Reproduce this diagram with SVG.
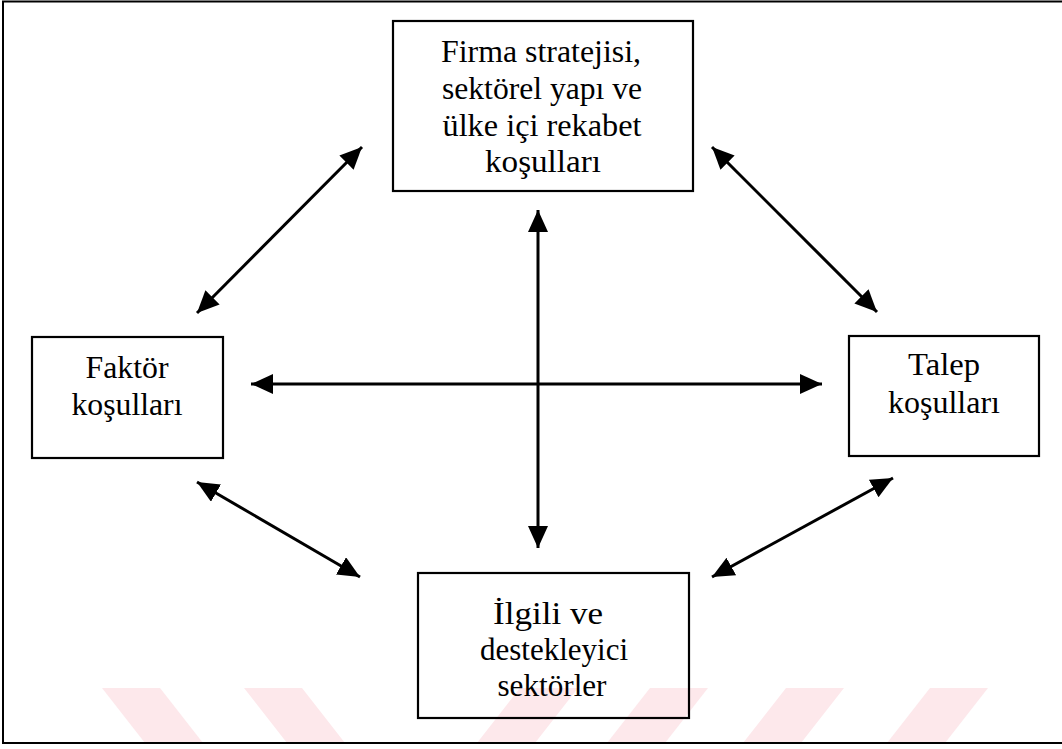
<svg xmlns="http://www.w3.org/2000/svg" width="1062" height="749" viewBox="0 0 1062 749">
  <style>
    .box { fill: none; stroke: #000; stroke-width: 2.2; }
    .lbl { font-family: "Liberation Serif", "Times New Roman", serif; font-size: 32px; fill: #000; text-anchor: middle; }
    .conn { stroke: #000; stroke-width: 3; fill: none; marker-start: url(#ah); marker-end: url(#ah); }
    .wm { fill: #fde8eb; }
  </style>
  <defs>
    <marker id="ah" markerUnits="userSpaceOnUse" markerWidth="24" markerHeight="22" refX="22" refY="10" orient="auto-start-reverse" viewBox="0 0 24 22">
      <path d="M0,0 L22,10 L0,20 Z" fill="#000"/>
    </marker>
  </defs>
  <rect width="1062" height="749" fill="#fff"/>
  <g id="watermark">
    <polygon class="wm" points="102,688 160,688 203,743 145,743"/>
    <polygon class="wm" points="244,688 302,688 345,743 287,743"/>
    <polygon class="wm" points="520,688 578,688 535,743 477,743"/>
    <polygon class="wm" points="650,688 708,688 665,743 607,743"/>
    <polygon class="wm" points="786,688 844,688 801,743 743,743"/>
    <polygon class="wm" points="930,688 988,688 945,743 887,743"/>
  </g>
  <rect id="frame" x="3" y="1.5" width="1070" height="741.5" fill="none" stroke="#000" stroke-width="2"/>
  <g id="connectors">
    <line class="conn" x1="362" y1="147" x2="197" y2="313"/>
    <line class="conn" x1="712" y1="147" x2="877" y2="312"/>
    <line class="conn" x1="197" y1="482" x2="360" y2="577"/>
    <line class="conn" x1="893" y1="478" x2="712" y2="577"/>
    <line class="conn" x1="538" y1="210" x2="538" y2="548"/>
    <line class="conn" x1="251" y1="384" x2="822" y2="384"/>
  </g>
  <g id="node-firma">
    <rect class="box" x="393" y="21" width="300" height="170"/>
    <text class="lbl" x="541" y="62" textLength="200" lengthAdjust="spacingAndGlyphs">Firma stratejisi,</text>
    <text class="lbl" x="542" y="99" textLength="200" lengthAdjust="spacingAndGlyphs">sektörel yapı ve</text>
    <text class="lbl" x="542" y="136" textLength="199" lengthAdjust="spacingAndGlyphs">ülke içi rekabet</text>
    <text class="lbl" x="543" y="172" textLength="116" lengthAdjust="spacingAndGlyphs">koşulları</text>
  </g>
  <g id="node-faktor">
    <rect class="box" x="32" y="337" width="191" height="121"/>
    <text class="lbl" x="127" y="378" textLength="83" lengthAdjust="spacingAndGlyphs">Faktör</text>
    <text class="lbl" x="127" y="415" textLength="111" lengthAdjust="spacingAndGlyphs">koşulları</text>
  </g>
  <g id="node-talep">
    <rect class="box" x="849" y="336" width="190" height="120"/>
    <text class="lbl" x="944" y="375" textLength="72" lengthAdjust="spacingAndGlyphs">Talep</text>
    <text class="lbl" x="944" y="413" textLength="112" lengthAdjust="spacingAndGlyphs">koşulları</text>
  </g>
  <g id="node-ilgili">
    <rect class="box" x="418" y="573" width="271" height="145"/>
    <text class="lbl" x="548" y="624" textLength="110" lengthAdjust="spacingAndGlyphs">İlgili ve</text>
    <text class="lbl" x="554" y="660" textLength="148" lengthAdjust="spacingAndGlyphs">destekleyici</text>
    <text class="lbl" x="552" y="696" textLength="109" lengthAdjust="spacingAndGlyphs">sektörler</text>
  </g>
</svg>
